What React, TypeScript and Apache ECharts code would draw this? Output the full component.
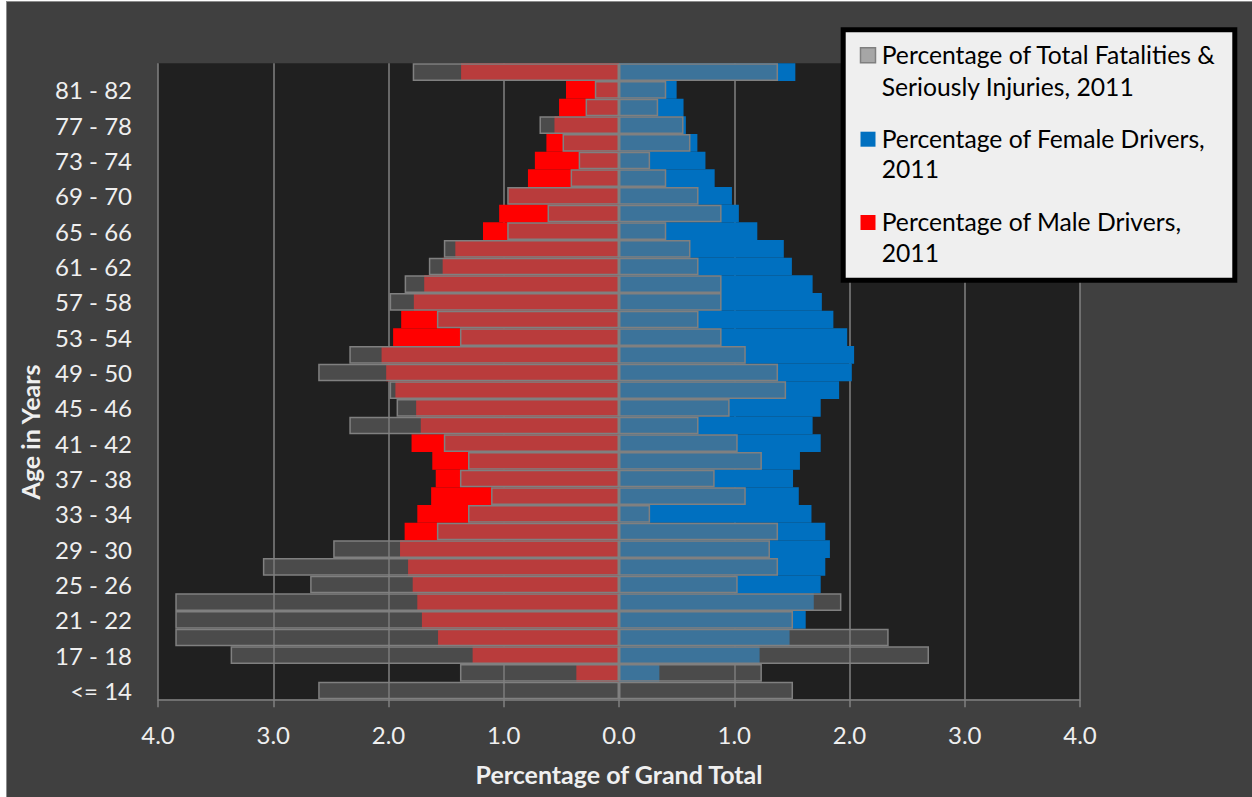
import React, { useEffect, useRef } from "react";
import * as echarts from "echarts";

// Categories, bottom to top
const categories = [
  "<= 14", "15 - 16", "17 - 18", "19 - 20", "21 - 22", "23 - 24", "25 - 26", "27 - 28",
  "29 - 30", "31 - 32", "33 - 34", "35 - 36", "37 - 38", "39 - 40", "41 - 42", "43 - 44",
  "45 - 46", "47 - 48", "49 - 50", "51 - 52", "53 - 54", "55 - 56", "57 - 58", "59 - 60",
  "61 - 62", "63 - 64", "65 - 66", "67 - 68", "69 - 70", "71 - 72", "73 - 74", "75 - 76",
  "77 - 78", "79 - 80", "81 - 82", "83+",
];

// Percentage of Male Drivers, 2011 (left side)
const maleDrivers = [
  0, 0.37, 1.27, 1.57, 1.71, 1.75, 1.79, 1.83, 1.90, 1.86, 1.75, 1.63, 1.59, 1.62, 1.80, 1.72,
  1.76, 1.94, 2.02, 2.06, 1.96, 1.89, 1.78, 1.69, 1.53, 1.42, 1.18, 1.04, 0.96, 0.79, 0.73, 0.63,
  0.56, 0.52, 0.46, 1.37,
];

// Percentage of Total Fatalities & Seriously Injuries, 2011 (male side)
const maleCasualties = [
  2.61, 1.38, 3.37, 3.85, 3.85, 3.85, 2.68, 3.09, 2.48, 1.58, 1.31, 1.11, 1.38, 1.31, 1.52, 2.34,
  1.93, 1.99, 2.61, 2.34, 1.38, 1.58, 1.99, 1.86, 1.65, 1.52, 0.97, 0.62, 0.97, 0.42, 0.35, 0.49,
  0.69, 0.29, 0.21, 1.79,
];

// Percentage of Female Drivers, 2011 (right side)
const femaleDrivers = [
  0, 0.35, 1.22, 1.48, 1.62, 1.69, 1.75, 1.79, 1.83, 1.79, 1.67, 1.56, 1.51, 1.57, 1.75, 1.68,
  1.75, 1.91, 2.02, 2.04, 1.98, 1.86, 1.76, 1.68, 1.50, 1.43, 1.20, 1.04, 0.98, 0.83, 0.75, 0.68,
  0.58, 0.56, 0.50, 1.53,
];

// Percentage of Total Fatalities & Seriously Injuries, 2011 (female side)
const femaleCasualties = [
  1.51, 1.24, 2.69, 2.34, 1.51, 1.93, 1.03, 1.38, 1.31, 1.38, 0.27, 1.10, 0.83, 1.24, 1.03, 0.69,
  0.96, 1.45, 1.38, 1.10, 0.89, 0.69, 0.89, 0.89, 0.69, 0.62, 0.41, 0.89, 0.69, 0.41, 0.27, 0.62,
  0.56, 0.34, 0.41, 1.38,
];

const legendLines = [
  ["Percentage of Total Fatalities &", "Seriously Injuries, 2011"],
  ["Percentage of Female Drivers,", "2011"],
  ["Percentage of Male Drivers,", "2011"],
];
const legendColors = ["#a6a6a6", "#0070c0", "#ff0000"];

const xTitle = "Percentage of Grand Total";
const yTitle = "Age in Years";

const FONT = "Lato";
const TEXT_COLOR = "#efefef";
const GREY_FILL = "rgba(117,117,117,0.51)";
const GREY_BORDER = "#808080";

export default function App() {
  const ref = useRef<HTMLDivElement>(null);

  useEffect(() => {
    const chart = echarts.init(ref.current!, null, { renderer: "svg" });

    const legendGraphics: any[] = [
      {
        type: "rect",
        shape: { x: 836.2, y: 27.8, width: 391.6, height: 250.4 },
        style: { fill: "#efefef", stroke: "#000000", lineWidth: 5 },
        z: 100,
      },
    ];
    const iconTops = [45.7, 129.7, 213];
    const lineCenters = [
      [52.8, 84.5],
      [136.2, 166.5],
      [219.5, 250.5],
    ];
    legendLines.forEach((lines, i) => {
      legendGraphics.push({
        type: "rect",
        shape: { x: 853.5, y: iconTops[i], width: 15, height: 15 },
        style: {
          fill: legendColors[i],
          stroke: i === 0 ? "#7f7f7f" : legendColors[i],
          lineWidth: i === 0 ? 1.5 : 0,
        },
        z: 101,
      });
      lines.forEach((t, j) => {
        legendGraphics.push({
          type: "text",
          x: 874.7,
          y: lineCenters[i][j],
          style: {
            text: t,
            fill: "#000000",
            font: `24.7px ${FONT}`,
            align: "left",
            textAlign: "left",
            verticalAlign: "middle",
            textVerticalAlign: "middle",
          },
          z: 101,
        });
      });
    });

    chart.setOption({
      animation: false,
      backgroundColor: "#404040",
      grid: {
        left: 151,
        top: 61.3,
        width: 922,
        height: 636,
        show: true,
        backgroundColor: "#202020",
        borderWidth: 0,
        containLabel: false,
      },
      xAxis: {
        type: "value",
        min: -4,
        max: 4,
        interval: 1,
        axisLine: { show: true, onZero: false, lineStyle: { color: "#808080", width: 1.5 } },
        axisTick: { show: true, inside: false, length: 8, lineStyle: { color: "#808080", width: 1.5 } },
        splitLine: { show: true, lineStyle: { color: "#808080", width: 1.5 } },
        axisLabel: {
          color: TEXT_COLOR,
          fontFamily: FONT,
          fontSize: 24,
          margin: 23,
          formatter: (v: number) => Math.abs(v).toFixed(1),
        },
      },
      yAxis: {
        type: "category",
        data: categories,
        axisLine: { show: false },
        axisTick: { show: false },
        splitLine: { show: false },
        axisLabel: {
          color: TEXT_COLOR,
          fontFamily: FONT,
          fontSize: 24,
          margin: 26,
          interval: 1,
        },
      },
      graphic: [
        {
          type: "text",
          x: 612,
          y: 772,
          style: {
            text: xTitle,
            fill: TEXT_COLOR,
            font: `bold 25px ${FONT}`,
            align: "center",
            textAlign: "center",
            verticalAlign: "middle",
            textVerticalAlign: "middle",
          },
        },
        {
          type: "text",
          x: 23,
          y: 430,
          rotation: Math.PI / 2,
          style: {
            text: yTitle,
            fill: TEXT_COLOR,
            font: `bold 25px ${FONT}`,
            align: "center",
            textAlign: "center",
            verticalAlign: "middle",
            textVerticalAlign: "middle",
          },
        },
        ...legendGraphics,
      ],
      series: [
        {
          name: "Percentage of Male Drivers, 2011",
          type: "bar",
          data: maleDrivers.map((v) => -v),
          barCategoryGap: "0%",
          barGap: "-100%",
          itemStyle: { color: "#ff0000" },
          z: 2,
        },
        {
          name: "Percentage of Female Drivers, 2011",
          type: "bar",
          data: femaleDrivers,
          barCategoryGap: "0%",
          barGap: "-100%",
          itemStyle: { color: "#0070c0" },
          z: 2,
        },
        {
          name: "Percentage of Total Fatalities & Seriously Injuries, 2011 (male)",
          type: "bar",
          data: maleCasualties.map((v) => -v),
          barCategoryGap: "0%",
          barGap: "-100%",
          itemStyle: { color: GREY_FILL, borderColor: GREY_BORDER, borderWidth: 1.5 },
          z: 3,
        },
        {
          name: "Percentage of Total Fatalities & Seriously Injuries, 2011 (female)",
          type: "bar",
          data: femaleCasualties,
          barCategoryGap: "0%",
          barGap: "-100%",
          itemStyle: { color: GREY_FILL, borderColor: GREY_BORDER, borderWidth: 1.5 },
          z: 3,
        },
      ],
    });

    return () => chart.dispose();
  }, []);

  return (
    <div
      style={{
        position: "fixed",
        left: 6,
        top: 1,
        width: 1246,
        height: 796,
        border: "1px solid #8c8c8c",
        background: "#404040",
      }}
    >
      <div ref={ref} style={{ width: 1246, height: 796 }} />
    </div>
  );
}
